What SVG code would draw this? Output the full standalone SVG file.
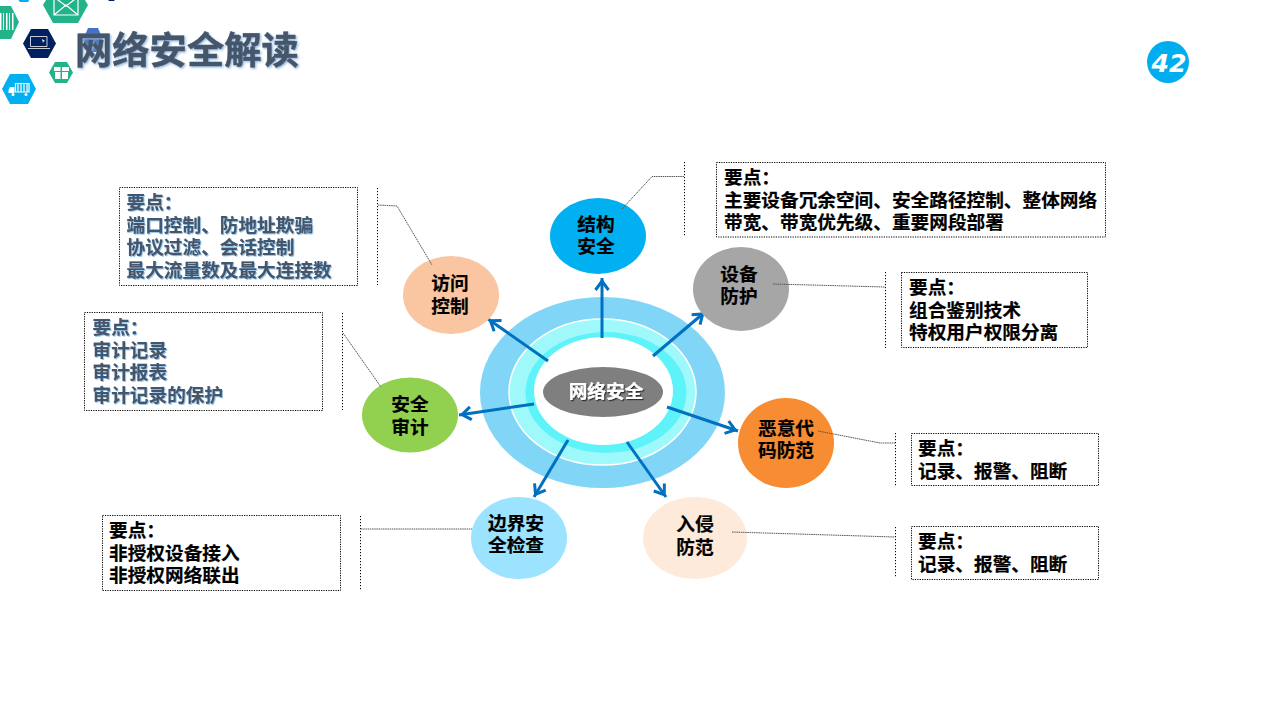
<svg xmlns="http://www.w3.org/2000/svg" width="1280" height="720" viewBox="0 0 1280 720">
<style>
text{font-family:"Noto Sans CJK SC","Liberation Sans",sans-serif;font-weight:700;font-size:18.67px;stroke-width:.2px}
.nl{text-anchor:middle;fill:#000;stroke:#000}
.blk{fill:#000;stroke:#000}
.sl{fill:#44546a;stroke:#44546a;filter:url(#blue)}
.box{fill:none;stroke:#000;stroke-width:1;stroke-dasharray:1.2 1.2}
.brk{fill:none;stroke:#000;stroke-width:1;stroke-dasharray:1.2 1.8}
.lead{fill:none;stroke:#555;stroke-width:1;stroke-dasharray:1.5 .7}
.arr{fill:none;stroke:#0070c0;stroke-width:3;marker-end:url(#ah)}
.ic{fill:none;stroke:#fff;stroke-width:1.2}
.icf{fill:#fff}
</style>
<defs>
<marker id="ah" markerUnits="userSpaceOnUse" markerWidth="20" markerHeight="18" refX="16" refY="9" orient="auto">
<path d="M4 2.500L13 9L4 15.500" fill="none" stroke="#0070c0" stroke-width="3"/>
</marker>
<filter id="blue" x="-5%" y="-5%" width="110%" height="110%"><feDropShadow dx="1" dy="1" stdDeviation=".5" flood-color="#8fc4ee" flood-opacity=".9"/></filter>
<filter id="ttl" x="-5%" y="-10%" width="110%" height="120%"><feDropShadow dx="1.2" dy="1.2" stdDeviation=".8" flood-color="#8fb4dc"/></filter>
<filter id="ctr" x="-5%" y="-10%" width="110%" height="125%"><feDropShadow dx="1.2" dy="1.2" stdDeviation=".3" flood-color="#333"/></filter>
</defs>
<rect width="1280" height="720" fill="#fff"/>

<g id="decor">
<polygon points="15,-4 20,-8 28,-8 32,-4 28,2 20,2" fill="#00b0f0"/>
<polygon points="105,-4 109,-8 114,-8 118,-4 114,1 109,1" fill="#002060"/>
<polygon points="43,5 54,-13 77,-13 88,5 78,23 53,23" fill="#22b38a"/>
<path class="ic" d="M54,-3H78V15H54ZM54,15L66,5L78,15M54,-3L66,6L78,-3"/>
<polygon points="-13,22 -4,6 11,6 19,22 11,39 -4,39" fill="#22b38a"/>
<path class="icf" d="M0 13h1.500v17H0zM3 13h1v17H3zM6 13h1.500v17H6zM9 13h1v17H9zM12 13h1.500v17H12z"/>
<polygon points="23,43.500 31,29 48,29 56,43.500 48,58 31,58" fill="#002060"/>
<path d="M30.500,36.500H47V46.500H30.500ZM28,48.500H50" fill="none" stroke="#c8ccd8" stroke-width="1"/>
<path class="icf" d="M42 39l3 2-1.500.5-.5 1.500z"/>
<polygon points="83,40 88,28 98,28 103,40 98,52 88,52" fill="#4472c4"/>
<polygon points="49,72.500 55,62 67,62 73,72.500 67,83 55,83" fill="#22b38a"/>
<path class="icf" d="M54 67h6.500v4H54zM62 67h7v4h-7zM55 72h5.500v7H55zM62 72h6v7h-6z"/>
<polygon points="2,89 10,74 28,74 36,89 28,104 10,104" fill="#00b0f0"/>
<path d="M15.500,83.500H29V92H15.500ZM18,83V92M21,83V92M24,83V92M27,83V92" fill="none" stroke="#fff" stroke-width="1.200"/>
<path class="icf" d="M10 87h4.500v6H8.500v-3z"/>
<circle cx="13" cy="94.500" r="1.500" fill="#fff"/><circle cx="26" cy="94.500" r="1.500" fill="#fff"/>
</g>

<text id="title" x="75" y="64" style="font-size:37.3px;fill:#44546a;stroke:#44546a;stroke-width:.5px;filter:url(#ttl)">网络安全解读</text>

<g id="page-number">
<circle cx="1168" cy="62" r="21" fill="#00aeef"/>
<text x="1169" y="72" text-anchor="middle" style="font-family:'DejaVu Sans',sans-serif;font-style:oblique;font-size:25px;fill:#fff" textLength="35" lengthAdjust="spacingAndGlyphs">42</text>
</g>

<g id="hub">
<ellipse cx="602.500" cy="392.500" rx="122.500" ry="95.500" fill="#81d6f8"/>
<ellipse cx="602.500" cy="392" rx="93.500" ry="73" fill="#9ff8f9" stroke="#fff" stroke-width="1.500"/>
<ellipse cx="606" cy="392.500" rx="80.500" ry="60.500" fill="#5ef3f8"/>
<ellipse cx="603.500" cy="391" rx="69.500" ry="54" fill="#fff"/>
<ellipse cx="603" cy="392" rx="60" ry="25" fill="#7f7f7f"/>
<text x="606" y="398" text-anchor="middle" style="fill:#fff;stroke:#fff;filter:url(#ctr)">网络安全</text>
</g>

<g id="connectors">
<path class="arr" d="M602,338V278"/>
<path class="arr" d="M548,361L488,319"/>
<path class="arr" d="M653,356L705,312"/>
<path class="arr" d="M534,404L459,415"/>
<path class="arr" d="M667,407L738,431"/>
<path class="arr" d="M568,440L534,497"/>
<path class="arr" d="M627,442L666,497"/>
</g>

<g id="node-jiegou">
<ellipse cx="598" cy="236" rx="48" ry="38" fill="#00b0f0"/>
<text class="nl"><tspan x="596" y="231">结构</tspan><tspan x="596" y="253">安全</tspan></text>
</g>
<g id="node-fangwen">
<ellipse cx="451" cy="295" rx="48" ry="39" fill="#fac6a1"/>
<text class="nl"><tspan x="450" y="290">访问</tspan><tspan x="450" y="313">控制</tspan></text>
</g>
<g id="node-shebei">
<ellipse cx="741" cy="289" rx="48" ry="42" fill="#a6a6a6"/>
<text class="nl"><tspan x="739" y="281">设备</tspan><tspan x="739" y="303">防护</tspan></text>
</g>
<g id="node-shenji">
<ellipse cx="410" cy="415" rx="48" ry="37.500" fill="#92d050"/>
<text class="nl"><tspan x="410" y="411">安全</tspan><tspan x="410" y="434">审计</tspan></text>
</g>
<g id="node-eyi">
<ellipse cx="786" cy="443" rx="48" ry="45" fill="#f88c33"/>
<text class="nl"><tspan x="786" y="435">恶意代</tspan><tspan x="786" y="457">码防范</tspan></text>
</g>
<g id="node-ruqin">
<ellipse cx="695" cy="538" rx="52" ry="41" fill="#fdeada"/>
<text class="nl"><tspan x="695" y="531">入侵</tspan><tspan x="695" y="554">防范</tspan></text>
</g>
<g id="node-bianjie">
<ellipse cx="519" cy="538" rx="48" ry="41" fill="#9be3fe"/>
<text class="nl"><tspan x="516" y="530">边界安</tspan><tspan x="516" y="552">全检查</tspan></text>
</g>

<g id="leaders">
<path class="lead" d="M378,205L397,206L432,265"/>
<path class="lead" d="M343,333L381,387"/>
<path class="lead" d="M684,176.500H652L622,209"/>
<path class="lead" d="M773,284L885,287"/>
<path class="lead" d="M818,431L880,443H895"/>
<path class="lead" d="M732,532L895,537"/>
<path class="lead" d="M361,529H472"/>
</g>

<g id="note-fangwen">
<rect class="box" x="119.500" y="187.500" width="238" height="98"/>
<path class="brk" d="M377.500,188V285"/>
<text class="sl"><tspan x="126.500" y="209">要点：</tspan><tspan x="126.500" y="232">端口控制、防地址欺骗</tspan><tspan x="126.500" y="254">协议过滤、会话控制</tspan><tspan x="126.500" y="277">最大流量数及最大连接数</tspan></text>
</g>
<g id="note-shenji">
<rect class="box" x="84.500" y="312.500" width="238" height="98"/>
<path class="brk" d="M342.500,313V410"/>
<text class="sl"><tspan x="92.500" y="334">要点：</tspan><tspan x="92.500" y="357">审计记录</tspan><tspan x="92.500" y="379">审计报表</tspan><tspan x="92.500" y="402">审计记录的保护</tspan></text>
</g>
<g id="note-jiegou">
<rect class="box" x="716.500" y="162.500" width="389" height="74.500"/>
<path class="brk" d="M684.500,162V237"/>
<text class="blk"><tspan x="724" y="184">要点：</tspan><tspan x="724" y="207">主要设备冗余空间、安全路径控制、整体网络</tspan><tspan x="724" y="229">带宽、带宽优先级、重要网段部署</tspan></text>
</g>
<g id="note-shebei">
<rect class="box" x="901.500" y="272.500" width="186" height="75"/>
<path class="brk" d="M885.500,272V348"/>
<text class="blk"><tspan x="909" y="294">要点：</tspan><tspan x="909" y="317">组合鉴别技术</tspan><tspan x="909" y="339">特权用户权限分离</tspan></text>
</g>
<g id="note-eyi">
<rect class="box" x="911.500" y="433.500" width="187" height="52"/>
<path class="brk" d="M895.500,433V486"/>
<text class="blk"><tspan x="918" y="455">要点：</tspan><tspan x="918" y="478">记录、报警、阻断</tspan></text>
</g>
<g id="note-ruqin">
<rect class="box" x="911.500" y="526.500" width="187" height="53"/>
<path class="brk" d="M895.500,527V578"/>
<text class="blk"><tspan x="918" y="548">要点：</tspan><tspan x="918" y="571">记录、报警、阻断</tspan></text>
</g>
<g id="note-bianjie">
<rect class="box" x="102.500" y="515.500" width="238" height="75"/>
<path class="brk" d="M360.500,516V590"/>
<text class="blk"><tspan x="109" y="537">要点：</tspan><tspan x="109" y="560">非授权设备接入</tspan><tspan x="109" y="582">非授权网络联出</tspan></text>
</g>
</svg>
